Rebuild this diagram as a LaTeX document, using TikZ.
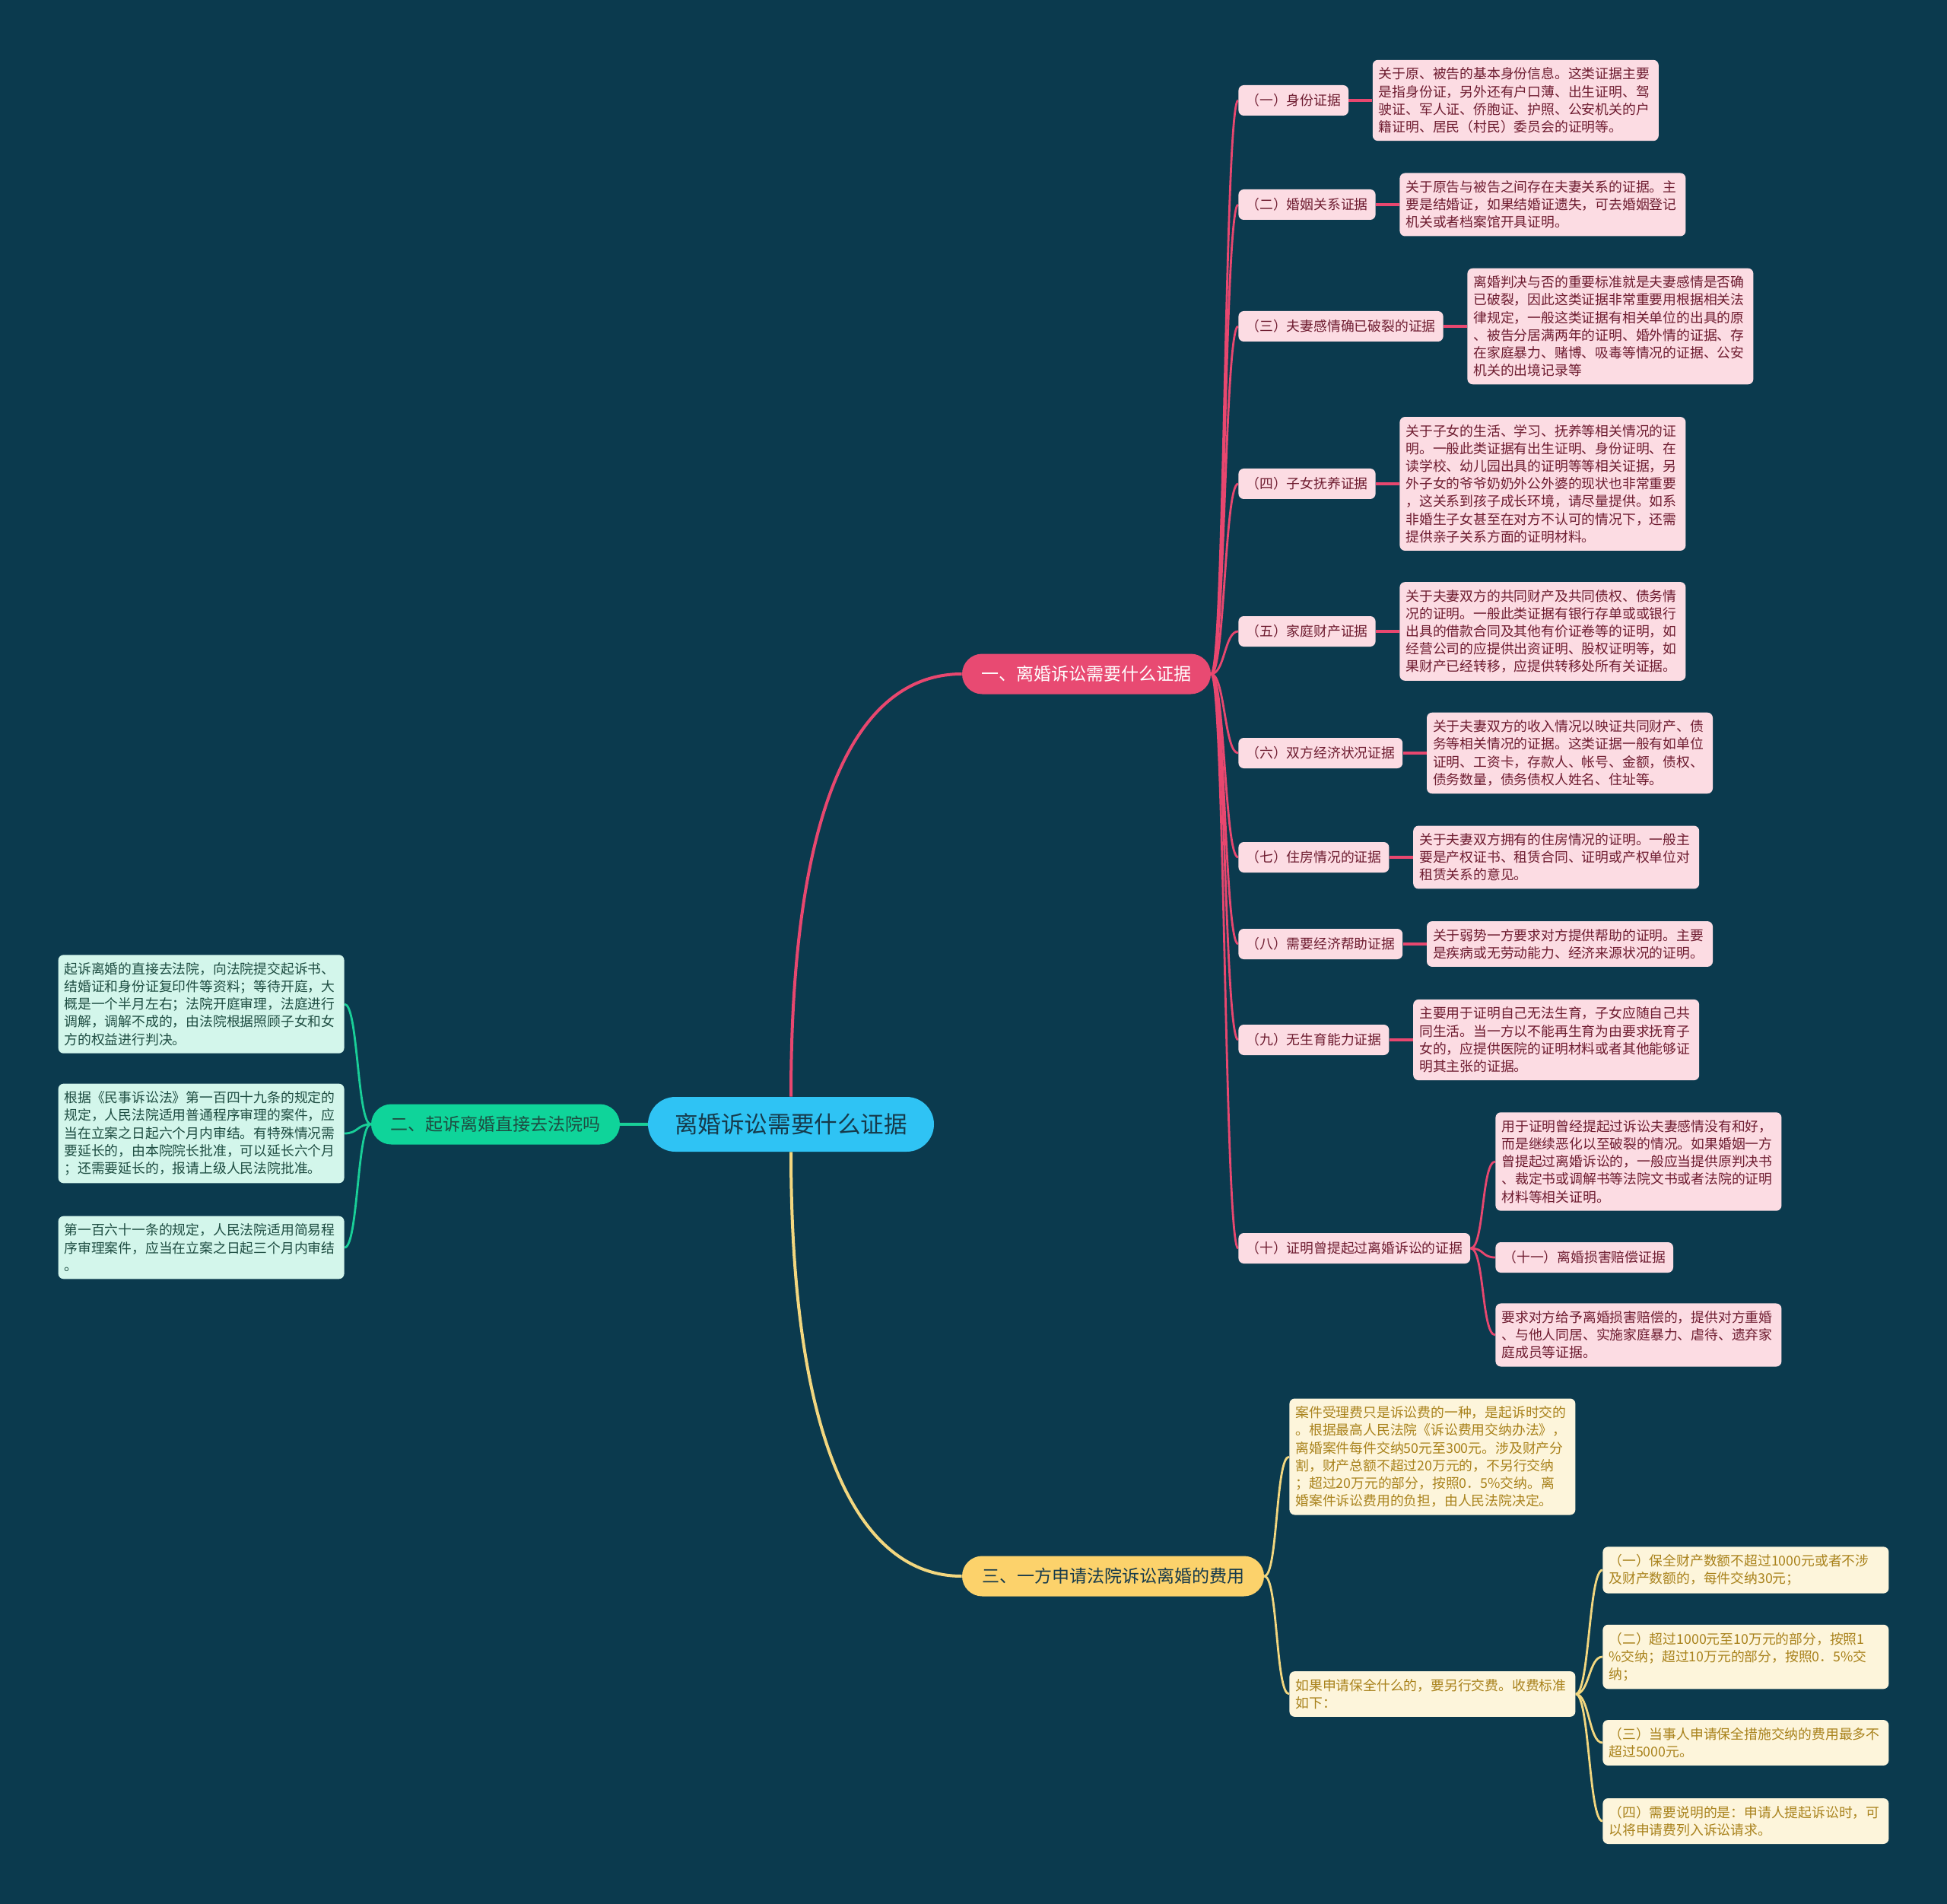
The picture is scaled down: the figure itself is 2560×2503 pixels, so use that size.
\documentclass[tikz,border=0pt]{standalone}
\usepackage{fontspec}
\setmainfont{Noto Sans CJK SC}
\usetikzlibrary{backgrounds}
\definecolor{bg}{HTML}{0B3A4E}
\definecolor{pkline}{HTML}{E8476F}
\definecolor{pkfill}{HTML}{E84A72}
\definecolor{pklight}{HTML}{FCDCE3}
\definecolor{pktext}{HTML}{6E1C30}
\definecolor{grline}{HTML}{19CF98}
\definecolor{grfill}{HTML}{0FD49A}
\definecolor{grlight}{HTML}{D3F6EB}
\definecolor{grtext}{HTML}{1E4D42}
\definecolor{ylline}{HTML}{F3D77F}
\definecolor{ylfill}{HTML}{FCD26B}
\definecolor{yllight}{HTML}{FDF5DB}
\definecolor{yltext}{HTML}{A9821C}
\definecolor{rootfill}{HTML}{2FC3F4}
\definecolor{roottext}{HTML}{163A4B}
\begin{document}
\begin{tikzpicture}[x=0.5pt,y=-0.5pt,
  rootnode/.style={fill=rootfill,text=roottext,rounded corners=18pt,minimum width=188pt,minimum height=36pt,inner sep=0pt,font=\fontsize{15.3}{18}\selectfont},
  branchnode/.style={rounded corners=13.25pt,minimum height=26.5pt,inner sep=0pt,font=\fontsize{11.5}{14}\selectfont},
  lvl/.style={anchor=west,rounded corners=3.5pt,minimum height=20pt,inner xsep=5pt,inner ysep=2pt,font=\fontsize{8.9}{11.6}\selectfont},
  det/.style={anchor=west,rounded corners=3.5pt,text width=180pt,inner xsep=4pt,inner ysep=5pt,align=left,font=\fontsize{8.9}{11.6}\selectfont},
  pk/.style={fill=pklight,text=pktext},
  gr/.style={fill=grlight,text=grtext},
  yl/.style={fill=yllight,text=yltext},
  pkl/.style={draw=pkline,line width=1.4pt},
  grl/.style={draw=grline,line width=1.4pt},
  yll/.style={draw=ylline,line width=1.4pt}
]
\useasboundingbox (0,0) rectangle (2560,2503);

% main nodes
\node[rootnode] (root) at (1040,1478) {离婚诉讼需要什么证据};
\node[branchnode,fill=pkfill,text=white,minimum width=163.5pt] (b1) at (1428.5,886) {一、离婚诉讼需要什么证据};
\node[branchnode,fill=grfill,text=grtext,minimum width=163.5pt] (b2) at (651.5,1478) {二、起诉离婚直接去法院吗};
\node[branchnode,fill=ylfill,text=roottext,minimum width=198.5pt] (b3) at (1463.5,2072) {三、一方申请法院诉讼离婚的费用};

% pink level 2
\node[lvl,pk] (p1) at (1628,132) {（一）身份证据};
\node[lvl,pk] (p2) at (1628,269) {（二）婚姻关系证据};
\node[lvl,pk] (p3) at (1628,429) {（三）夫妻感情确已破裂的证据};
\node[lvl,pk] (p4) at (1628,636) {（四）子女抚养证据};
\node[lvl,pk] (p5) at (1628,830) {（五）家庭财产证据};
\node[lvl,pk] (p6) at (1628,990) {（六）双方经济状况证据};
\node[lvl,pk] (p7) at (1628,1127) {（七）住房情况的证据};
\node[lvl,pk] (p8) at (1628,1241) {（八）需要经济帮助证据};
\node[lvl,pk] (p9) at (1628,1367) {（九）无生育能力证据};
\node[lvl,pk] (p10) at (1628,1641) {（十）证明曾提起过离婚诉讼的证据};

% pink details
\node[det,pk] (q1) at ([xshift=15.5pt]p1.east) {关于原、被告的基本身份信息。这类证据主要\\是指身份证，另外还有户口薄、出生证明、驾\\驶证、军人证、侨胞证、护照、公安机关的户\\籍证明、居民（村民）委员会的证明等。};
\node[det,pk] (q2) at ([xshift=15.5pt]p2.east) {关于原告与被告之间存在夫妻关系的证据。主\\要是结婚证，如果结婚证遗失，可去婚姻登记\\机关或者档案馆开具证明。};
\node[det,pk] (q3) at ([xshift=15.5pt]p3.east) {离婚判决与否的重要标准就是夫妻感情是否确\\已破裂，因此这类证据非常重要用根据相关法\\律规定，一般这类证据有相关单位的出具的原\\、被告分居满两年的证明、婚外情的证据、存\\在家庭暴力、赌博、吸毒等情况的证据、公安\\机关的出境记录等};
\node[det,pk] (q4) at ([xshift=15.5pt]p4.east) {关于子女的生活、学习、抚养等相关情况的证\\明。一般此类证据有出生证明、身份证明、在\\读学校、幼儿园出具的证明等等相关证据，另\\外子女的爷爷奶奶外公外婆的现状也非常重要\\，这关系到孩子成长环境，请尽量提供。如系\\非婚生子女甚至在对方不认可的情况下，还需\\提供亲子关系方面的证明材料。};
\node[det,pk] (q5) at ([xshift=15.5pt]p5.east) {关于夫妻双方的共同财产及共同债权、债务情\\况的证明。一般此类证据有银行存单或或银行\\出具的借款合同及其他有价证卷等的证明，如\\经营公司的应提供出资证明、股权证明等，如\\果财产已经转移，应提供转移处所有关证据。};
\node[det,pk] (q6) at ([xshift=15.5pt]p6.east) {关于夫妻双方的收入情况以映证共同财产、债\\务等相关情况的证据。这类证据一般有如单位\\证明、工资卡，存款人、帐号、金额，债权、\\债务数量，债务债权人姓名、住址等。};
\node[det,pk] (q7) at ([xshift=15.5pt]p7.east) {关于夫妻双方拥有的住房情况的证明。一般主\\要是产权证书、租赁合同、证明或产权单位对\\租赁关系的意见。};
\node[det,pk] (q8) at ([xshift=15.5pt]p8.east) {关于弱势一方要求对方提供帮助的证明。主要\\是疾病或无劳动能力、经济来源状况的证明。};
\node[det,pk] (q9) at ([xshift=15.5pt]p9.east) {主要用于证明自己无法生育，子女应随自己共\\同生活。当一方以不能再生育为由要求抚育子\\女的，应提供医院的证明材料或者其他能够证\\明其主张的证据。};
\node[det,pk] (r1) at (1966,1527) {用于证明曾经提起过诉讼夫妻感情没有和好，\\而是继续恶化以至破裂的情况。如果婚姻一方\\曾提起过离婚诉讼的，一般应当提供原判决书\\、裁定书或调解书等法院文书或者法院的证明\\材料等相关证明。};
\node[lvl,pk] (r2) at (1966,1653) {（十一）离婚损害赔偿证据};
\node[det,pk] (r3) at (1966,1755) {要求对方给予离婚损害赔偿的，提供对方重婚\\、与他人同居、实施家庭暴力、虐待、遗弃家\\庭成员等证据。};

% green details
\node[det,gr,anchor=east] (g1) at (453,1320) {起诉离婚的直接去法院，向法院提交起诉书、\\结婚证和身份证复印件等资料；等待开庭，大\\概是一个半月左右；法院开庭审理，法庭进行\\调解，调解不成的，由法院根据照顾子女和女\\方的权益进行判决。};
\node[det,gr,anchor=east] (g2) at (453,1490) {根据《民事诉讼法》第一百四十九条的规定的\\规定，人民法院适用普通程序审理的案件，应\\当在立案之日起六个月内审结。有特殊情况需\\要延长的，由本院院长批准，可以延长六个月\\；还需要延长的，报请上级人民法院批准。};
\node[det,gr,anchor=east] (g3) at (453,1640) {第一百六十一条的规定，人民法院适用简易程\\序审理案件，应当在立案之日起三个月内审结\\。};

% yellow details
\node[det,yl] (y1) at (1695,1915) {案件受理费只是诉讼费的一种，是起诉时交的\\。根据最高人民法院《诉讼费用交纳办法》，\\离婚案件每件交纳50元至300元。涉及财产分\\割，财产总额不超过20万元的，不另行交纳\\；超过20万元的部分，按照0．5\%交纳。离\\婚案件诉讼费用的负担，由人民法院决定。};
\node[det,yl] (y2) at (1695,2227) {如果申请保全什么的，要另行交费。收费标准\\如下：};
\node[det,yl] (y2a) at (2107,2064) {（一）保全财产数额不超过1000元或者不涉\\及财产数额的，每件交纳30元；};
\node[det,yl] (y2b) at (2107,2178) {（二）超过1000元至10万元的部分，按照1\\\%交纳；超过10万元的部分，按照0．5\%交\\纳；};
\node[det,yl] (y2c) at (2107,2291) {（三）当事人申请保全措施交纳的费用最多不\\超过5000元。};
\node[det,yl] (y2d) at (2107,2394) {（四）需要说明的是：申请人提起诉讼时，可\\以将申请费列入诉讼请求。};

\begin{scope}[on background layer]
\fill[bg] (0,0) rectangle (2560,2503);
% root connectors
\draw[pkl,line width=2pt] (root.north) .. controls (1040,1050) and (1130,886) .. (b1.west);
\draw[yll,line width=2pt] (root.south) .. controls (1040,1900) and (1130,2072) .. (b3.west);
\draw[grl,line width=2.2pt] (root.west) -- (b2.east);
% pink spine
\foreach \n in {p1,p2,p3,p4,p5,p6,p7,p8,p9,p10}
  \draw[pkl] (b1.east) .. controls +(18,0) and +(-18,0) .. (\n.west);
\foreach \a/\b in {p1/q1,p2/q2,p3/q3,p4/q4,p5/q5,p6/q6,p7/q7,p8/q8,p9/q9}
  \draw[pkl,line width=1.6pt] (\a.east) -- (\b.west);
\foreach \n in {r1,r2,r3}
  \draw[pkl] (p10.east) .. controls +(18,0) and +(-18,0) .. (\n.west);
% green
\foreach \n in {g1,g2,g3}
  \draw[grl] (b2.west) .. controls +(-18,0) and +(18,0) .. (\n.east);
% yellow
\foreach \n in {y1,y2}
  \draw[yll] (b3.east) .. controls +(18,0) and +(-18,0) .. (\n.west);
\foreach \n in {y2a,y2b,y2c,y2d}
  \draw[yll] (y2.east) .. controls +(18,0) and +(-18,0) .. (\n.west);
\end{scope}
\end{tikzpicture}
\end{document}
